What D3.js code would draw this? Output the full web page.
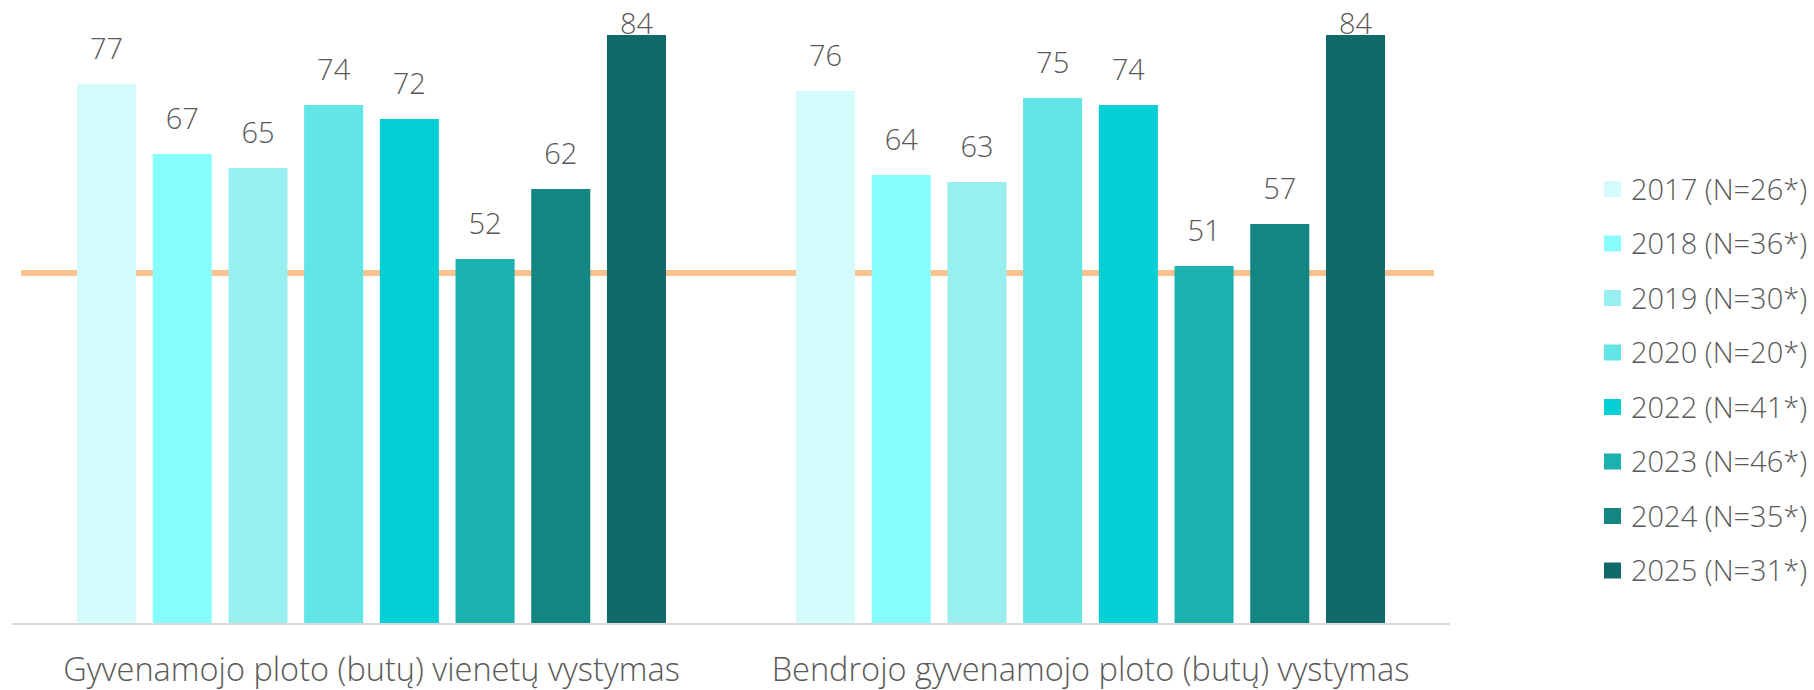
<!DOCTYPE html>
<html>
<head>
<meta charset="utf-8">
<script src="https://cdn.jsdelivr.net/npm/d3@7"></script>
<style>
  body { margin: 0; background: #fff; }
  text { font-family: "Segoe UI Light", "Open Sans", sans-serif; font-weight: 300; fill: #595959; }
</style>
</head>
<body>
<div id="chart-area"></div>
<script>
let categories = ["Gyvenamojo ploto (butų) vienetų vystymas", "Bendrojo gyvenamojo ploto (butų) vystymas"]
let years = ["2017", "2018", "2019", "2020", "2022", "2023", "2024", "2025"]
let legendLabels = ["2017 (N=26*)", "2018 (N=36*)", "2019 (N=30*)", "2020 (N=20*)", "2022 (N=41*)", "2023 (N=46*)", "2024 (N=35*)", "2025 (N=31*)"]
let valuesUnits = [77, 67, 65, 74, 72, 52, 62, 84]
let valuesArea = [76, 64, 63, 75, 74, 51, 57, 84]
let refValue = 50
let colors = ["#d5fbfd", "#88fdfd", "#97efef", "#62e5e5", "#03cfd5", "#1cb0af", "#138682", "#116a69"]

let svgW = 1814;
let svgH = 690;

let data = categories.map((c, i) => ({
  category: c,
  values: years.map((y, j) => ({ year: y, value: (i == 0 ? valuesUnits : valuesArea)[j] }))
}))

let svg = d3.select("#chart-area")
  .append("svg")
  .attr("width", svgW)
  .attr("height", svgH)

let x0 = d3.scaleBand()
  .domain(categories)
  .range([12, 1450])

let x1 = d3.scaleBand()
  .domain(years)
  .range([65, x0.bandwidth() - 65])
  .paddingInner(0.22)

let y = d3.scaleLinear()
  .domain([0, 89])
  .range([623, 0])

let color = d3.scaleOrdinal()
  .domain(years)
  .range(colors)

// axis line
svg.append("line")
  .attr("x1", x0.range()[0])
  .attr("x2", x0.range()[1])
  .attr("y1", y(0) + 1)
  .attr("y2", y(0) + 1)
  .attr("stroke", "#d9d9d9")
  .attr("stroke-width", 2)

// reference line, sits behind the bars
svg.append("line")
  .attr("x1", x0.range()[0] + 9)
  .attr("x2", x0.range()[1] - 16)
  .attr("y1", y(refValue))
  .attr("y2", y(refValue))
  .attr("stroke", "#fac28f")
  .attr("stroke-width", 6)

let groups = svg.selectAll(".group")
  .data(data)
  .enter()
  .append("g")
  .attr("class", "group")
  .attr("transform", d => `translate(${x0(d.category)},0)`)

groups.selectAll("rect")
  .data(d => d.values)
  .enter()
  .append("rect")
  .attr("x", d => x1(d.year))
  .attr("y", d => y(d.value))
  .attr("width", x1.bandwidth())
  .attr("height", d => y(0) - y(d.value))
  .attr("fill", d => color(d.year))

groups.selectAll(".label")
  .data(d => d.values)
  .enter()
  .append("text")
  .attr("class", "label")
  .attr("x", d => x1(d.year) + x1.bandwidth() / 2)
  .attr("y", d => Math.max(y(d.value) - 25, 34))
  .attr("text-anchor", "middle")
  .style("font-size", "29px")
  .text(d => d.value)

groups.append("text")
  .attr("x", x0.bandwidth() / 2)
  .attr("y", 681)
  .attr("text-anchor", "middle")
  .style("font-size", "32.5px")
  .text(d => d.category)

let legend = svg.append("g")
  .attr("transform", "translate(1604,0)")

let rows = legend.selectAll("g")
  .data(legendLabels)
  .enter()
  .append("g")
  .attr("transform", (d, i) => `translate(0,${189 + i * 54.5})`)

rows.append("rect")
  .attr("x", 0)
  .attr("y", -8)
  .attr("width", 17)
  .attr("height", 16)
  .attr("fill", (d, i) => colors[i])

rows.append("text")
  .attr("x", 27)
  .attr("y", 10.5)
  .style("font-size", "29px")
  .text(d => d)
</script>
</body>
</html>
